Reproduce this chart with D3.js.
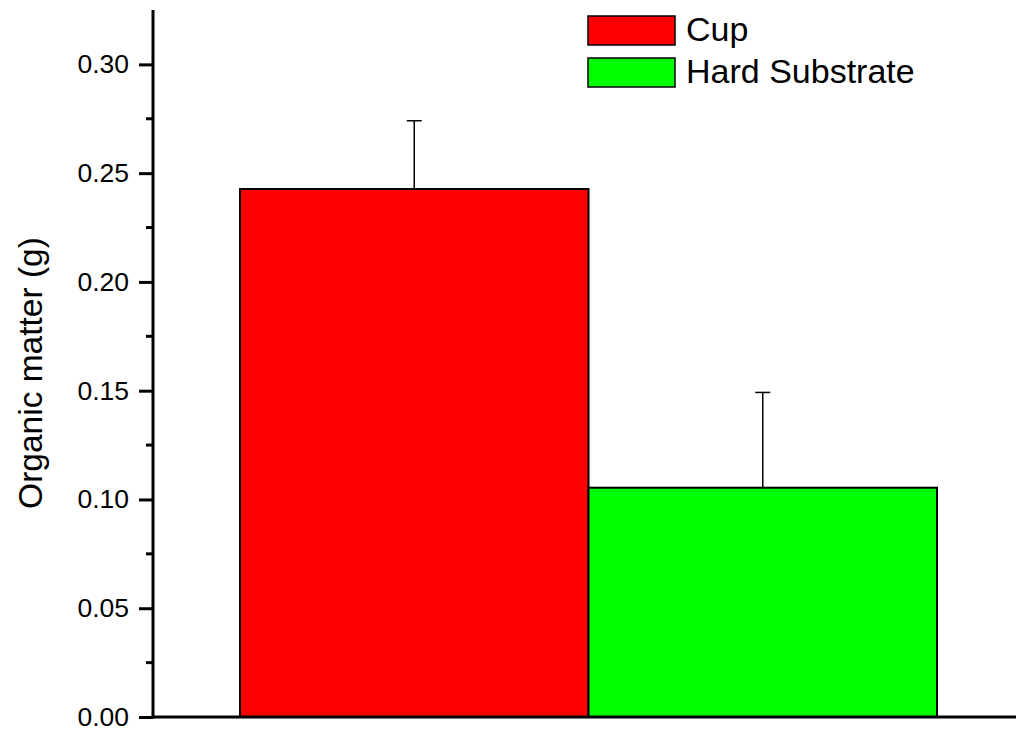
<!DOCTYPE html>
<html>
<head>
<meta charset="utf-8">
<script src="https://cdn.jsdelivr.net/npm/d3@7"></script>
<style>
  body { margin: 0; background: #fff; }
  text { font-family: Arial, "Liberation Sans", sans-serif; fill: #000; }
</style>
</head>
<body>
<svg id="chart"></svg>
<script>
// データ
const categories = ["Cup", "Hard Substrate"];
const means = [0.2427, 0.1054];
const errors = [0.0314, 0.0438];
const colors = ["#ff0000", "#00ff00"];
const yTicks = [0, 0.05, 0.10, 0.15, 0.20, 0.25, 0.30];

const width = 1016, height = 732;
const margin = {top: 10, left: 153, bottom: 15};

const svg = d3.select("#chart")
    .attr("width", width)
    .attr("height", height);

const y = d3.scaleLinear()
    .domain([0, 0.325])
    .range([height - margin.bottom, margin.top]);

const x = d3.scaleBand()
    .domain(categories)
    .range([240, 937])
    .padding(0);

// バー
svg.selectAll(".bar")
    .data(categories)
    .join("rect")
    .attr("class", "bar")
    .attr("x", d => x(d))
    .attr("y", (d, i) => y(means[i]))
    .attr("width", x.bandwidth())
    .attr("height", (d, i) => y(0) - y(means[i]))
    .attr("fill", (d, i) => colors[i])
    .attr("stroke", "#000")
    .attr("stroke-width", 2);

// エラーバー（上側のみ）
const err = svg.selectAll(".err")
    .data(categories)
    .join("g")
    .attr("class", "err")
    .attr("stroke", "#000")
    .attr("stroke-width", 1.5);
err.append("line")
    .attr("x1", d => x(d) + x.bandwidth() / 2)
    .attr("x2", d => x(d) + x.bandwidth() / 2)
    .attr("y1", (d, i) => y(means[i]))
    .attr("y2", (d, i) => y(means[i] + errors[i]));
err.append("line")
    .attr("x1", d => x(d) + x.bandwidth() / 2 - 7.5)
    .attr("x2", d => x(d) + x.bandwidth() / 2 + 7.5)
    .attr("y1", (d, i) => y(means[i] + errors[i]))
    .attr("y2", (d, i) => y(means[i] + errors[i]));

// Y軸
const yAxis = d3.axisLeft(y)
    .tickValues(yTicks)
    .tickFormat(d3.format(".2f"))
    .tickSize(14)
    .tickPadding(10);

svg.append("g")
    .attr("transform", `translate(${margin.left},0)`)
    .call(yAxis)
    .call(g => g.select(".domain").remove())
    .call(g => g.selectAll(".tick line").attr("stroke", "#000").attr("stroke-width", 3))
    .call(g => g.selectAll(".tick text").attr("font-size", 26.5).attr("fill", "#000")
        .attr("font-family", "Arial, 'Liberation Sans', sans-serif"));

// 副目盛り
const minor = d3.range(0.025, 0.325, 0.05);
svg.append("g")
    .selectAll("line")
    .data(minor)
    .join("line")
    .attr("x1", margin.left - 7)
    .attr("x2", margin.left)
    .attr("y1", d => y(d))
    .attr("y2", d => y(d))
    .attr("stroke", "#000")
    .attr("stroke-width", 3);

// 軸線
svg.append("line")
    .attr("x1", margin.left).attr("x2", margin.left)
    .attr("y1", y(0.325)).attr("y2", y(0) + 1.5)
    .attr("stroke", "#000").attr("stroke-width", 3);
svg.append("line")
    .attr("x1", margin.left - 1.5).attr("x2", width)
    .attr("y1", y(0)).attr("y2", y(0))
    .attr("stroke", "#000").attr("stroke-width", 3);

// Y軸ラベル
svg.append("text")
    .attr("transform", `translate(42,373) rotate(-90)`)
    .attr("text-anchor", "middle")
    .attr("font-size", 33.5)
    .text("Organic matter (g)");

// 凡例
const legend = svg.append("g")
    .selectAll("g")
    .data(categories)
    .join("g")
    .attr("transform", (d, i) => `translate(588,${16 + i * 42})`);
legend.append("rect")
    .attr("width", 87)
    .attr("height", 29)
    .attr("fill", (d, i) => colors[i])
    .attr("stroke", "#000")
    .attr("stroke-width", 1.5);
legend.append("text")
    .attr("x", 98)
    .attr("y", 25)
    .attr("font-size", 34)
    .text(d => d);
</script>
</body>
</html>
